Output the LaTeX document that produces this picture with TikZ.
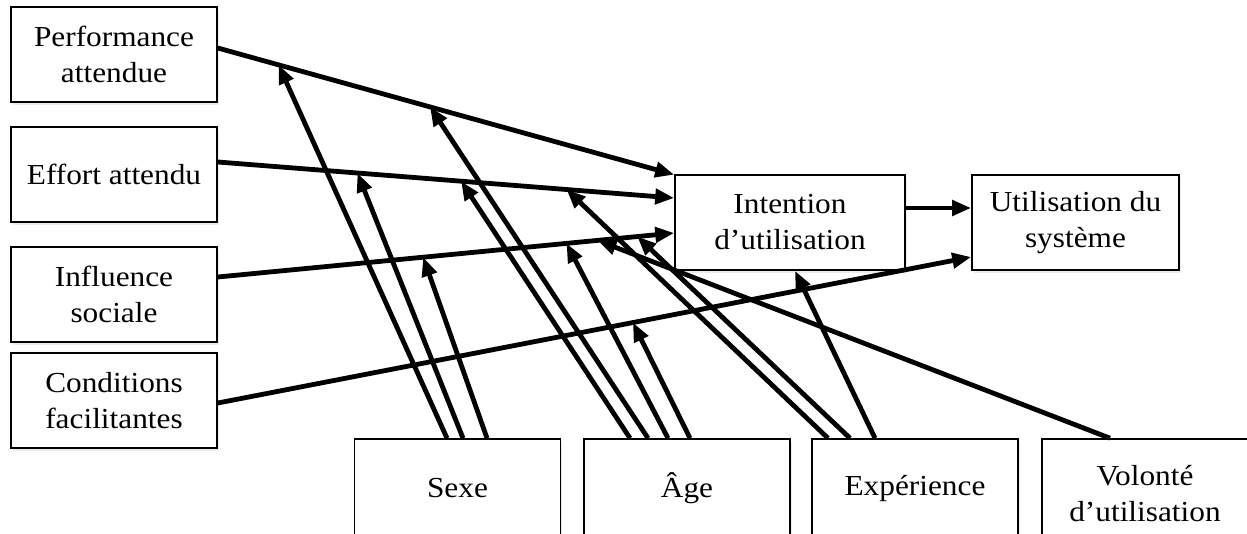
\documentclass[tikz,border=0pt]{standalone}
\usepackage{fontspec}
\setmainfont{Liberation Serif}[FakeStretch=1.08]
\usetikzlibrary{arrows.meta,shadows}

\begin{document}
\begin{tikzpicture}[x=1pt,y=-1pt,
  box/.style={draw, line width=1.6pt, fill=white, inner sep=0pt, align=center,
    font=\fontsize{29}{36}\selectfont,
    drop shadow={opacity=0.16, shadow xshift=1.5pt, shadow yshift=-2.5pt}},
  sidebox/.style={box, minimum width=206pt, minimum height=95pt},
  basebox/.style={box, minimum width=206pt, minimum height=98pt},
  link/.style={line width=4.8pt, -{Triangle[length=19pt,width=15pt]}}]

\clip (0,0) rectangle (1247,533);

% determinants
\node[sidebox] (perf)   at (114,54.5)  {Performance\\attendue};
\node[sidebox] (effort) at (114,174.5) {Effort attendu};
\node[sidebox] (infl)   at (114,294.5) {Influence\\sociale};
\node[sidebox] (cond)   at (114,400.5) {Conditions\\facilitantes};

% outcomes
\node[box, minimum width=230pt, minimum height=95pt] (intent) at (790,222.5) {Intention\\d’utilisation};
\node[box, minimum width=207pt, minimum height=95pt] (usage) at (1075.5,222.5) {Utilisation du\\système};

% moderators
\node[basebox] (sexe) at (457.5,488) {Sexe};
\node[basebox] (age)  at (687,488)   {Âge};
\node[basebox] (exp)  at (915,488)   {Expérience};
\node[basebox] (vol)  at (1145,488)  {\rule{0pt}{32pt}Volonté\\d’utilisation};

% main paths, with the points where moderators meet them
\draw[link] ([yshift=6.5pt]perf.east) --
  coordinate[pos=0.133] (pA) coordinate[pos=0.465] (pB)
  ([yshift=-0.5pt]intent.north west);
\draw[link] ([yshift=12.5pt]effort.east) --
  coordinate[pos=0.306] (eA) coordinate[pos=0.533] (eB) coordinate[pos=0.764] (eC)
  ([yshift=24.5pt]intent.west);
\draw[link] ([yshift=17.5pt]infl.east) --
  coordinate[pos=0.45] (iA) coordinate[pos=0.764] (iB)
  coordinate[pos=0.832] (iV) coordinate[pos=0.919] (iC)
  ([yshift=-10.5pt]intent.west);
\draw[link] ([yshift=-2.5pt]cond.east) --
  coordinate[pos=0.551] (cB)
  ([yshift=-34.5pt]usage.west);
\draw[link] ([yshift=14.5pt]intent.east) -- ([yshift=14.5pt]usage.west);

% sexe
\draw[link] ([xshift=-10.5pt]sexe.north) -- (pA);
\draw[link] ([xshift=5.5pt]sexe.north) -- (eA);
\draw[link] ([xshift=29.5pt]sexe.north) -- (iA);

% age
\draw[link] ([xshift=-57pt]age.north) -- (eB);
\draw[link] ([xshift=-39pt]age.north) -- (pB);
\draw[link] ([xshift=-19pt]age.north) -- (iB);
\draw[link] ([xshift=3pt]age.north) -- (cB);

% experience
\draw[link] ([xshift=-87pt]exp.north) -- (eC);
\draw[link] ([xshift=-65pt]exp.north) -- (iC);
\draw[link] ([xshift=-40pt]exp.north) -- ([xshift=5pt]intent.south);

% voluntariness
\draw[link] ([xshift=-35pt]vol.north) -- (iV);

\end{tikzpicture}
\end{document}
